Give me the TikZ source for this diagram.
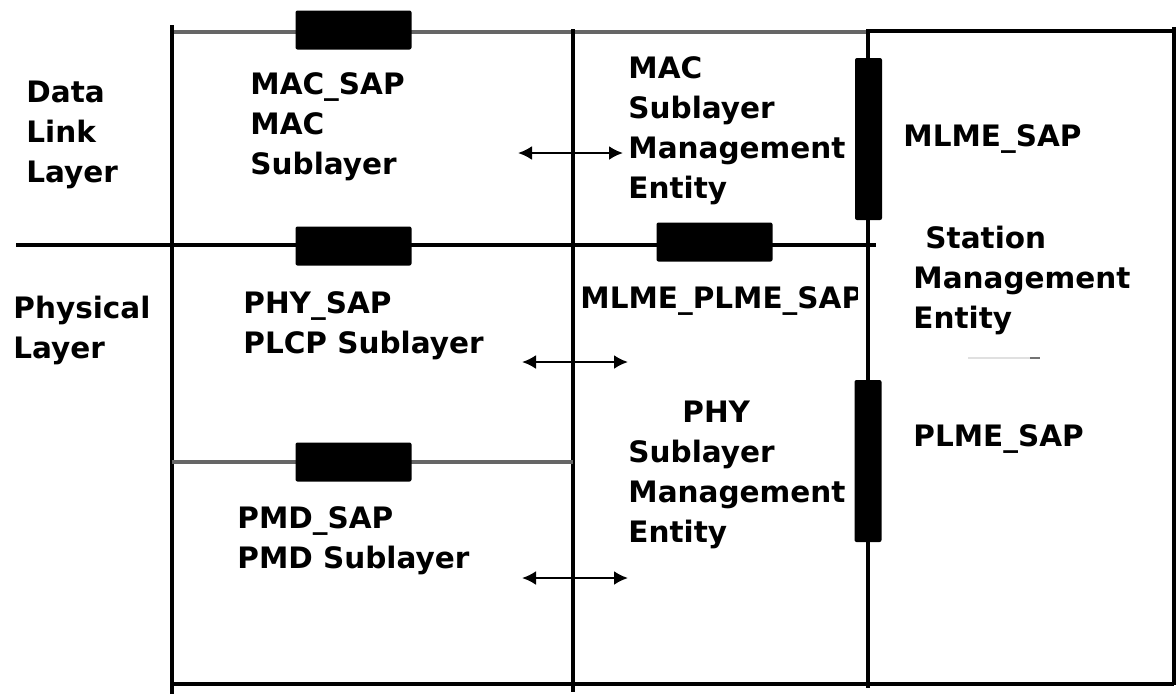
\documentclass[tikz,border=0pt]{standalone}
\usepackage{fontspec}
\setmainfont{DejaVu Sans}
\usetikzlibrary{arrows.meta}
\begin{document}
\begin{tikzpicture}[x=0.5pt,y=-0.5pt,
  lbl/.style={font=\fontsize{14.75}{20}\selectfont\bfseries, align=left, anchor=north west, inner sep=0pt},
  wire/.style={line width=2.2pt, line cap=rect},
  rim/.style={line width=1.6pt},
  greywire/.style={line width=1.6pt, draw=black!60},
  sapbox/.style={fill=black, draw=none, rounded corners=1pt, inner sep=0pt},
  hsap/.style={sapbox, minimum width=58pt, minimum height=19.5pt},
  vsap/.style={sapbox, minimum width=13.5pt, minimum height=81pt},
  link/.style={line width=1.2pt, {Latex[length=7pt,width=7pt]}-{Latex[length=7pt,width=7pt]}}]
\useasboundingbox (0,0) rectangle (1176,693);

% frame corners and junctions
\coordinate (lt) at (172,27);
\coordinate (lb) at (172,693);
\coordinate (mt) at (573,31);
\coordinate (mb) at (573,690);
\coordinate (rt) at (868,31);
\coordinate (rb) at (868,686);
\coordinate (et) at (1174,27);
\coordinate (eb) at (1174,685);
\coordinate (topl) at (172,32);
\coordinate (topr) at (868,32);
\coordinate (topx) at (1174,31);
\coordinate (divl) at (18,245);
\coordinate (divr) at (874,245);
\coordinate (pmdl) at (172,462);
\coordinate (pmdr) at (573,462);
\coordinate (botl) at (172,684);
\coordinate (botr) at (1174,684);

% layer grid
\draw[greywire] (topl) -- (topr);
\draw[rim] (rt) -- (topx);
\draw[wire] (lt) -- (lb);
\draw[wire] (mt) -- (mb);
\draw[wire] (rt) -- (rb);
\draw[rim] (et) -- (eb);
\draw[wire] (divl) -- (divr);
\draw[greywire] (pmdl) -- (pmdr);
\draw[rim] (botl) -- (botr);

% service access points
\node[hsap] (macbox) at (353.5,30) {};
\node[hsap] (phybox) at (353.5,246) {};
\node[hsap] (pmdbox) at (353.5,462) {};
\node[hsap] (mpbox) at (714.5,242) {};
\node[vsap] (mlmebox) at (868.5,139) {};
\node[vsap] (plmebox) at (868,461) {};

% sublayer to management entity links
\coordinate (a1l) at (518,153);
\coordinate (a1r) at (623,153);
\coordinate (a2l) at (522,362);
\coordinate (a2r) at (628,362);
\coordinate (a3l) at (522,578);
\coordinate (a3r) at (628,578);
\draw[link] (a1l) -- (a1r);
\draw[link] (a2l) -- (a2r);
\draw[link] (a3l) -- (a3r);

% faint trace in the station area
\coordinate (f1) at (968,358);
\coordinate (f2) at (1030,358);
\coordinate (f3) at (1040,358);
\draw[black!12, line width=0.7pt] (f1) -- (f2);
\draw[black!55, line width=1.2pt] (f2) -- (f3);

% labels
\node[lbl] (dll) at (26,81) {Data\\Link\\Layer};
\node[lbl] (phl) at (13,296) {Physical\\Layer};
\node[lbl] (macl) at (250,72) {MAC\_SAP\\MAC\\Sublayer};
\node[lbl] (plcpl) at (243,291) {PHY\_SAP\\PLCP Sublayer};
\node[lbl] (pmdl2) at (237,506) {PMD\_SAP\\PMD Sublayer};
\node[lbl] (macme) at (628,56) {MAC\\Sublayer\\Management\\Entity};
\begin{scope}
  \clip (575,260) rectangle (857,330);
  \node[lbl] (mplbl) at (580,286) {MLME\_PLME\_SAP};
\end{scope}
\node[lbl] (phyme) at (628,401) {\hspace*{27pt}PHY\\Sublayer\\Management\\Entity};
\node[lbl] (mlmel) at (903,124) {MLME\_SAP};
\node[lbl] (stme) at (913,226) {\hspace*{6pt}Station\\Management\\Entity};
\node[lbl] (plmel) at (913,424) {PLME\_SAP};
\end{tikzpicture}
\end{document}
